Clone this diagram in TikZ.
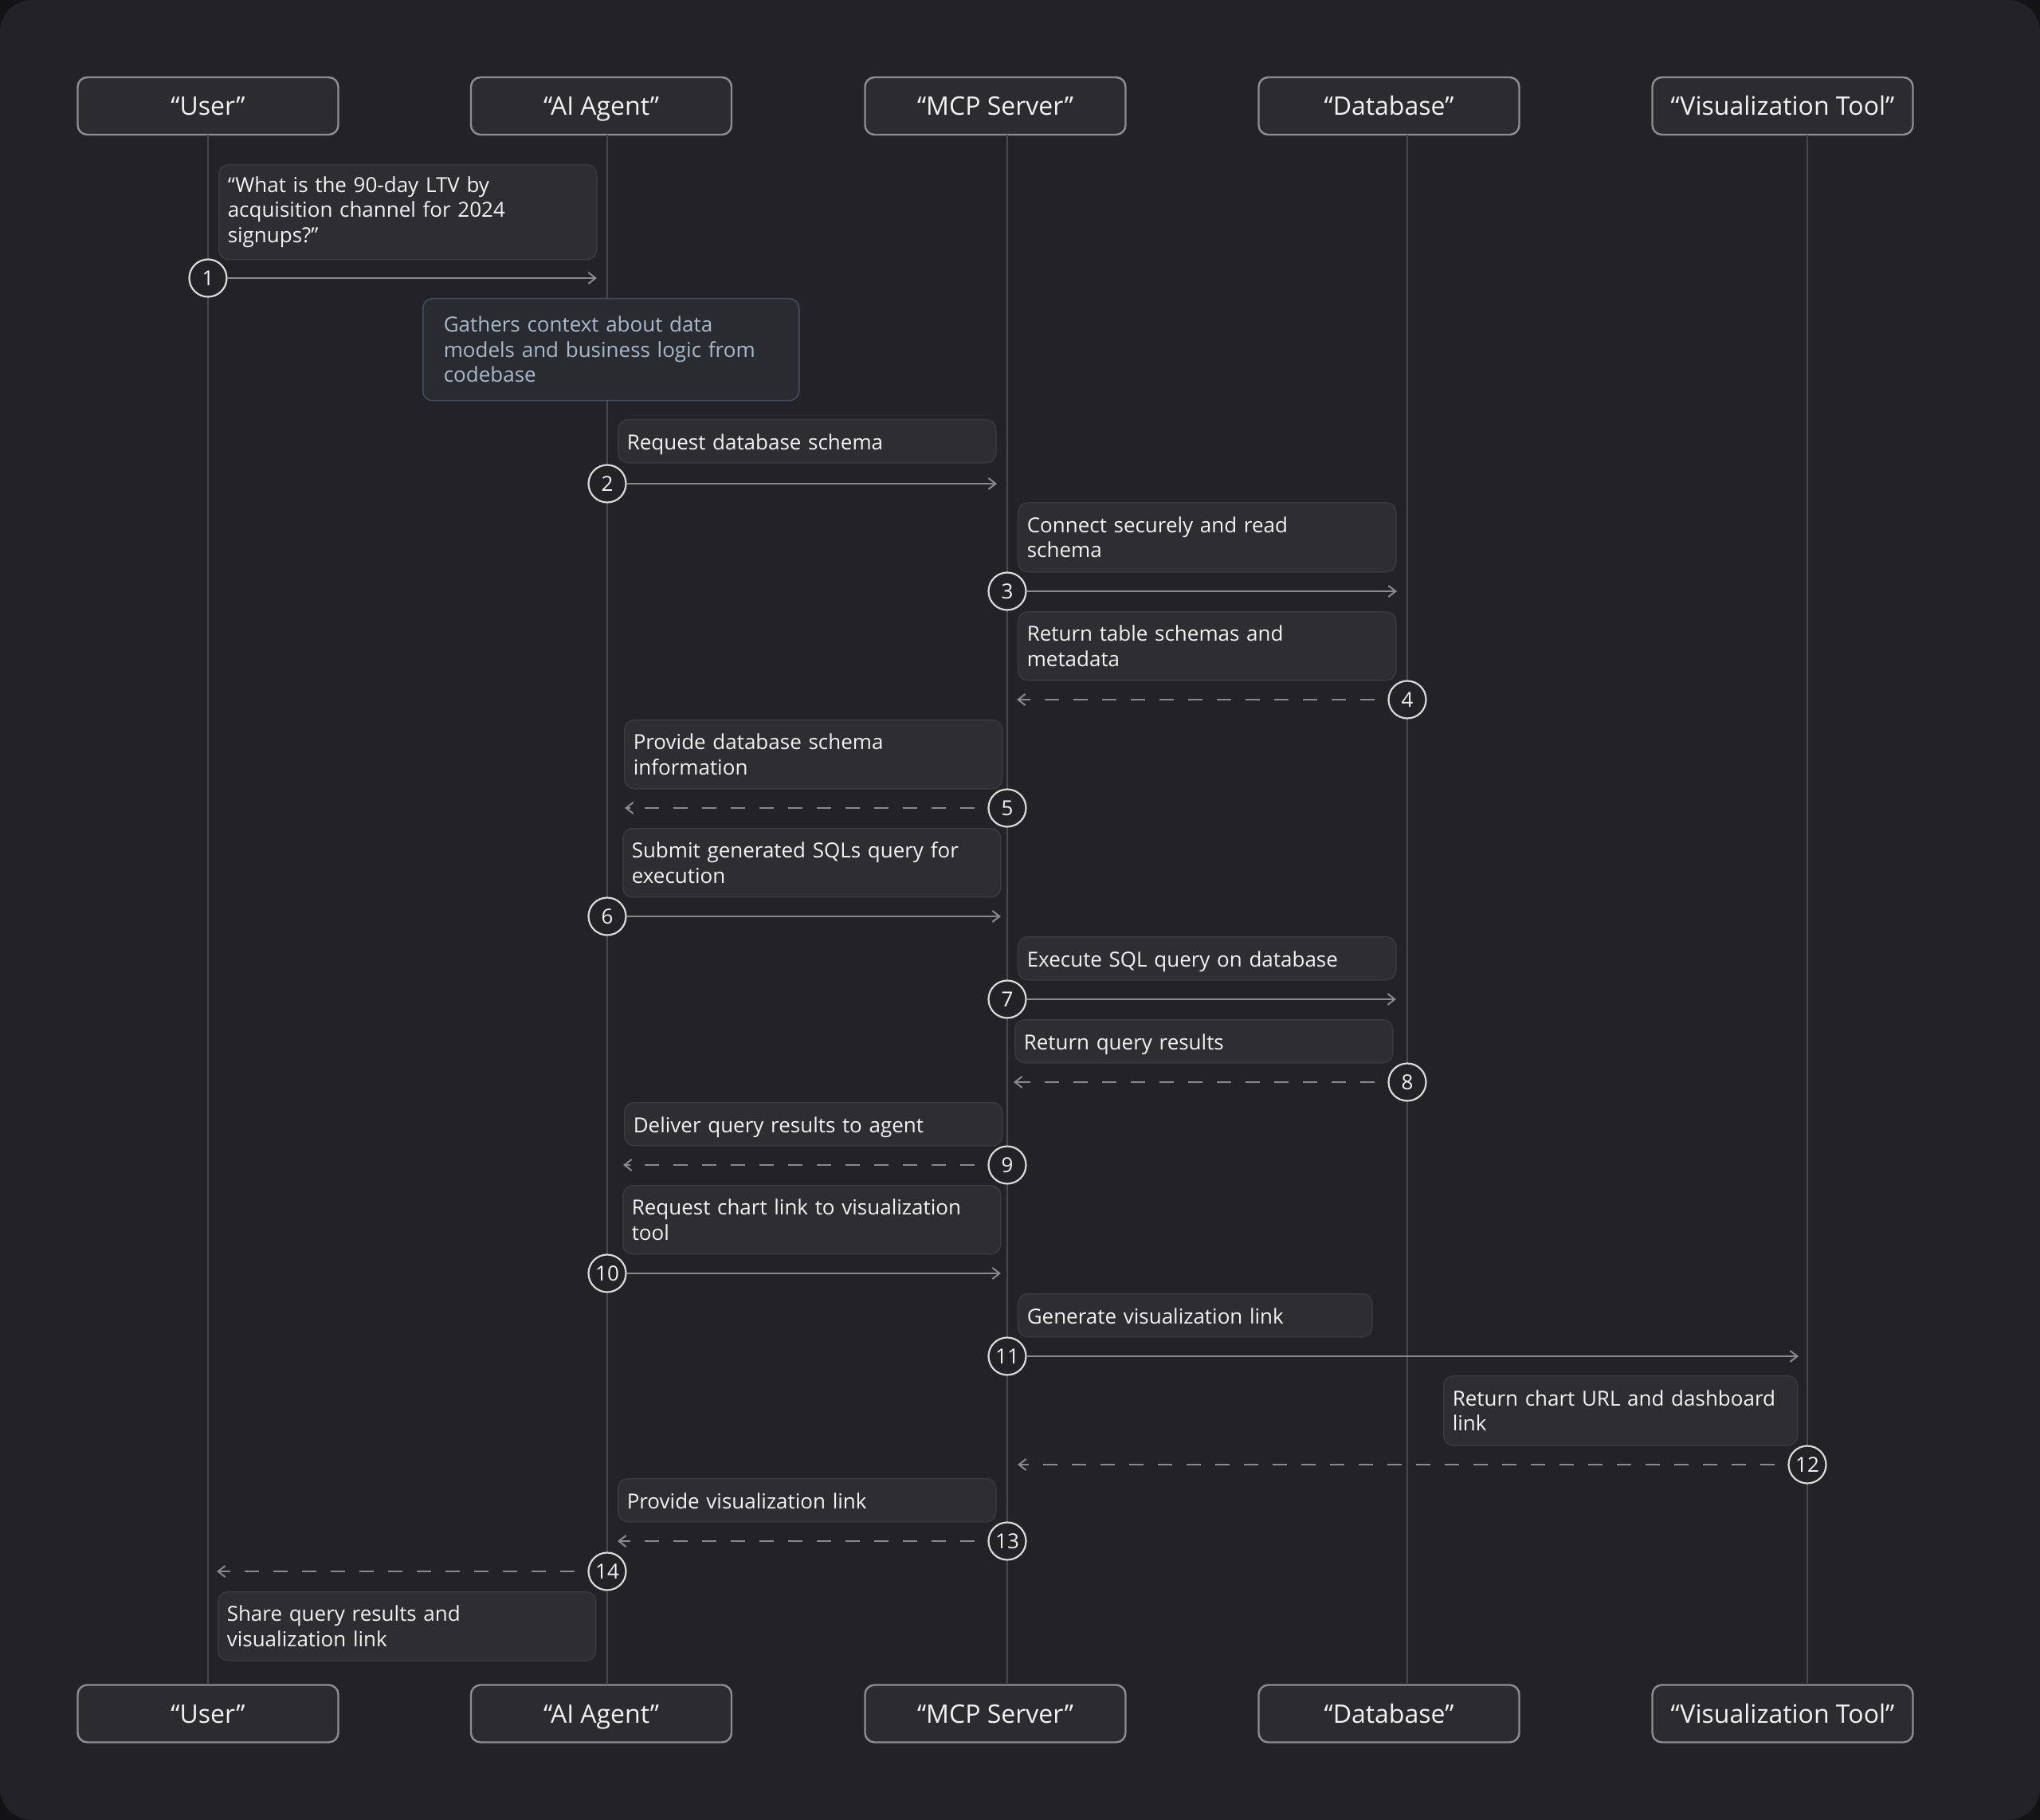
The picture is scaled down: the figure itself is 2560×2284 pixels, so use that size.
\documentclass[tikz,border=0pt]{standalone}
\usepackage{fontspec}
\setmainfont{Open Sans}
\usetikzlibrary{arrows.meta}

\definecolor{outside}{HTML}{131315}
\definecolor{canvas}{HTML}{232226}
\definecolor{ink}{HTML}{F2F2F2}
\definecolor{actorfill}{HTML}{2C2B2F}
\definecolor{actorline}{HTML}{8E8E90}
\definecolor{notefill}{HTML}{2E2D31}
\definecolor{noteline}{HTML}{3A393D}
\definecolor{thinkfill}{HTML}{2A2B31}
\definecolor{thinkline}{HTML}{3E5064}
\definecolor{thinkink}{HTML}{A7B9CB}
\definecolor{lifeline}{HTML}{47464A}
\definecolor{arrowline}{HTML}{8A8A8C}
\definecolor{ringline}{HTML}{DADADA}

\begin{document}
\begin{tikzpicture}[x=0.5pt,y=-0.5pt,
                    font=\fontsize{13pt}{15.75pt}\selectfont,
                    actor box/.style={draw=actorline,fill=actorfill,rounded corners=6pt,
                      line width=1.2pt,minimum width=163.5pt,minimum height=36pt,
                      text height=11.7pt,text depth=0pt,
                      text=ink,font=\fontsize{16pt}{19pt}\selectfont},
                    note box/.style={draw=noteline,fill=notefill,rounded corners=6pt,
                      line width=0.75pt,anchor=north west,align=left,text width=226pt,
                      inner xsep=5.5pt,inner ysep=3pt,minimum height=27pt,text=ink},
                    one line/.style={text height=11pt,text depth=0pt},
                    think box/.style={note box,draw=thinkline,fill=thinkfill,text=thinkink,
                      text width=210pt,inner xsep=13pt},
                    num node/.style={circle,draw=ringline,fill=canvas,line width=1.1pt,
                      minimum size=23.5pt,inner sep=0pt,text=ink},
                    life/.style={draw=lifeline,line width=0.75pt},
                    msg/.style={draw=arrowline,line width=1pt,
                      -{Straight Barb[length=4.5pt,width=7pt]}},
                    reply/.style={msg,dash pattern=on 9pt off 9pt,dash phase=-8pt}]

  % canvas
  \useasboundingbox (0,0) rectangle (2560,2284);
  \fill[outside] (0,0) rectangle (2560,2284);
  \fill[canvas,rounded corners=20pt] (0,0) rectangle (2560,2284);

  % participants, top and bottom
  \node[actor box] (user)   at (261,133)  {“User”};
  \node[actor box] (agent)  at (754.5,133) {“AI Agent”};
  \node[actor box] (mcp)    at (1249,133) {“MCP Server”};
  \node[actor box] (db)     at (1743,133) {“Database”};
  \node[actor box] (viz)    at (2237,133) {“Visualization Tool”};

  \node[actor box] (userB)  at (261,2150.5)  {“User”};
  \node[actor box] (agentB) at (754.5,2150.5) {“AI Agent”};
  \node[actor box] (mcpB)   at (1249,2150.5) {“MCP Server”};
  \node[actor box] (dbB)    at (1743,2150.5) {“Database”};
  \node[actor box] (vizB)   at (2237,2150.5) {“Visualization Tool”};

  % lifelines
  \coordinate (userT)  at (261,169);  \coordinate (userE)  at (261,2114);
  \coordinate (agentT) at (762,169);  \coordinate (agentE) at (762,2114);
  \coordinate (mcpT)   at (1264,169); \coordinate (mcpE)   at (1264,2114);
  \coordinate (dbT)    at (1766,169); \coordinate (dbE)    at (1766,2114);
  \coordinate (vizT)   at (2268,169); \coordinate (vizE)   at (2268,2114);
  \draw[life] (userT) -- (userE);
  \draw[life] (agentT) -- (agentE);
  \draw[life] (mcpT) -- (mcpE);
  \draw[life] (dbT) -- (dbE);
  \draw[life] (vizT) -- (vizE);

  % notes
  \node[note box,minimum height=59.5pt] (q)  at (274,206)
    {“What is the 90-day LTV by\\acquisition channel for 2024\\signups?”};
  \node[think box,minimum height=64pt] (ctx) at (530,374)
    {Gathers context about data\\models and business logic from\\codebase};
  \node[note box,one line] (t2)  at (775,526)  {Request database schema};
  \node[note box,minimum height=43.5pt] (t3) at (1277,630) {Connect securely and read\\schema};
  \node[note box,minimum height=43pt] (t4) at (1277,767) {Return table schemas and\\metadata};
  \node[note box,minimum height=43pt] (t5) at (783,903)  {Provide database schema\\information};
  \node[note box,minimum height=43pt] (t6) at (781,1039) {Submit generated SQLs query for\\execution};
  \node[note box,one line] (t7)  at (1277,1175) {Execute SQL query on database};
  \node[note box,one line] (t8)  at (1273,1279) {Return query results};
  \node[note box,one line] (t9)  at (783,1383)  {Deliver query results to agent};
  \node[note box,minimum height=43pt] (t10) at (781,1487) {Request chart link to visualization\\tool};
  \node[note box,one line,text width=211pt] (t11) at (1277,1623) {Generate visualization link};
  \node[note box,text width=211pt,minimum height=43.5pt] (t12) at (1811,1726) {Return chart URL and dashboard\\link};
  \node[note box,one line] (t13) at (775,1855)  {Provide visualization link};
  \node[note box,minimum height=43pt] (t14) at (273,1997) {Share query results and\\visualization link};

  % message ends
  \coordinate (e1)  at (749,349);
  \coordinate (e2)  at (1251,607);
  \coordinate (e3)  at (1753,742);
  \coordinate (e4)  at (1276,878);
  \coordinate (e5)  at (784,1014);
  \coordinate (e6)  at (1256,1150);
  \coordinate (e7)  at (1752,1254);
  \coordinate (e8)  at (1272,1358);
  \coordinate (e9)  at (782,1462);
  \coordinate (e10) at (1256,1598);
  \coordinate (e11) at (2257,1702);
  \coordinate (e12) at (1277,1838);
  \coordinate (e13) at (775,1934);
  \coordinate (e14) at (272,1972);

  % numbered steps
  \node[num node] (m1)  at (261,349)   {1};
  \node[num node] (m2)  at (762,607)   {2};
  \node[num node] (m3)  at (1264,742)  {3};
  \node[num node] (m4)  at (1766,878)  {4};
  \node[num node] (m5)  at (1264,1014) {5};
  \node[num node] (m6)  at (762,1150)  {6};
  \node[num node] (m7)  at (1264,1254) {7};
  \node[num node] (m8)  at (1766,1358) {8};
  \node[num node] (m9)  at (1264,1462) {9};
  \node[num node] (m10) at (762,1598)  {10};
  \node[num node] (m11) at (1264,1702) {11};
  \node[num node] (m12) at (2268,1838) {12};
  \node[num node] (m13) at (1264,1934) {13};
  \node[num node] (m14) at (762,1972)  {14};

  \draw[msg]   (m1)  -- (e1);
  \draw[msg]   (m2)  -- (e2);
  \draw[msg]   (m3)  -- (e3);
  \draw[reply] (m4)  -- (e4);
  \draw[reply] (m5)  -- (e5);
  \draw[msg]   (m6)  -- (e6);
  \draw[msg]   (m7)  -- (e7);
  \draw[reply] (m8)  -- (e8);
  \draw[reply] (m9)  -- (e9);
  \draw[msg]   (m10) -- (e10);
  \draw[msg]   (m11) -- (e11);
  \draw[reply] (m12) -- (e12);
  \draw[reply] (m13) -- (e13);
  \draw[reply] (m14) -- (e14);
\end{tikzpicture}
\end{document}
